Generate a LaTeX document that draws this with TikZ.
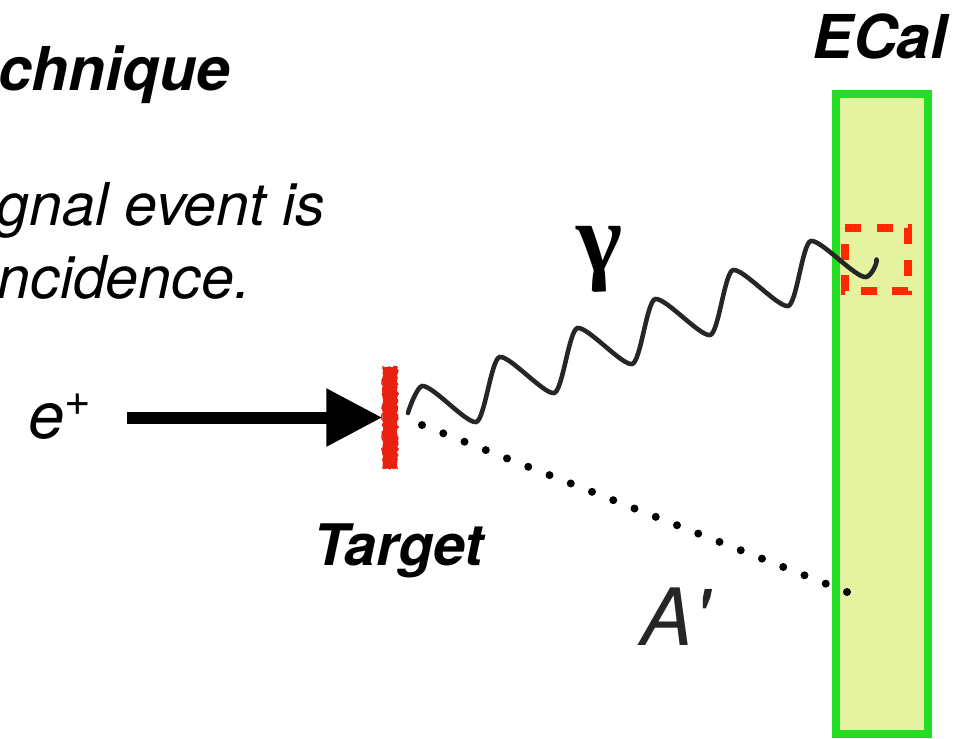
\documentclass[tikz,border=0pt]{standalone}
\usepackage{fontspec}
\setmainfont{TeX Gyre Heros}
\newfontfamily\greekfont{Liberation Serif}
\usetikzlibrary{arrows.meta,decorations.pathmorphing}
\definecolor{ecalgreen}{RGB}{35,222,35}
\definecolor{ecalfill}{RGB}{229,242,160}
\definecolor{hitred}{RGB}{255,40,0}
\definecolor{tgtred}{RGB}{232,34,14}

\begin{document}
\begin{tikzpicture}[
  every node/.style={inner sep=0pt},
  headtext/.style={font=\fontsize{#1}{#1}\selectfont\bfseries\itshape},
  headtext/.default=17.2,
  bodytext/.style={font=\fontsize{16.8}{20}\selectfont\itshape},
  beam/.style={line width=0.12cm,-{Triangle[length=0.56cm,width=0.55cm]}},
  wave/.style={out=8,in=188,looseness=#1},
  photon/.style={line width=1.3pt,black!85,line cap=round},
  dotline/.style={line width=0.08cm,line cap=round,dash pattern=on 0pt off 0.2283cm}
]
\useasboundingbox (0,0) rectangle (9.74,-7.38);
\clip (0,0) rectangle (9.74,-7.38);

\node[headtext,anchor=base west] (title) at (-0.02,-0.90) {chnique};
\node[bodytext,anchor=base west] (line1) at (-0.04,-2.25) {gnal event is};
\node[bodytext,anchor=base west] (line2) at (-0.03,-2.98) {ncidence.};

\node[draw=ecalgreen,fill=ecalfill,line width=0.08cm,minimum width=0.92cm,minimum height=6.40cm] (ecal) at (8.82,-4.14) {};
\node[headtext,anchor=base] (ecallabel) at (8.80,-0.58) {ECal};

\node[fill=tgtred,minimum width=0.14cm,minimum height=1.01cm,
  postaction={draw=tgtred,decorate,decoration={random steps,segment length=0.6pt,amplitude=0.35pt}}] (target) at (3.90,-4.175) {};
\node[headtext=16.3,anchor=base] (targetlabel) at (3.985,-5.65) {Target};

\node[anchor=base west,font=\fontsize{18.5}{20}\selectfont\itshape] (eplus) at (0.28,-4.38) {e\textsuperscript{+}};
\node[font=\greekfont\fontsize{28}{30}\selectfont\bfseries] (gamma) at (6.00,-2.59) {γ};
\node[anchor=base west,text=black!85,font=\fontsize{22.5}{24}\selectfont\itshape] (aprime) at (6.40,-6.45) {A\textquotesingle};

\coordinate (hit) at (8.765,-2.595);
\coordinate (gstart) at (4.08,-4.13);
\coordinate (astart) at (4.22,-4.25);
\coordinate (aend) at (8.47,-5.92);

\draw[hitred,line width=0.075cm,dash pattern=on 0.16cm off 0.155cm]
  (8.45,-2.28) -- (9.08,-2.28) -- (9.08,-2.91) -- (8.45,-2.91) -- cycle;

\draw[beam,shorten <=0.33cm] (eplus.east |- target.west) -- (target.west);
\draw[dotline] (astart) -- (aend);
\draw[photon] (gstart) to[out=78,in=188,looseness=0.4] (4.22,-3.86) to[wave=0.4] (4.76,-4.22)
  \foreach \k in {1,...,5} { to[wave=0.32] ({4.22+0.778*\k},{-3.86+0.29*\k}) to[wave=0.4] ({4.76+0.78*\k},{-4.22+0.29*\k}) }
  to[out=8,in=-80,looseness=0.6] (hit);
\end{tikzpicture}
\end{document}
